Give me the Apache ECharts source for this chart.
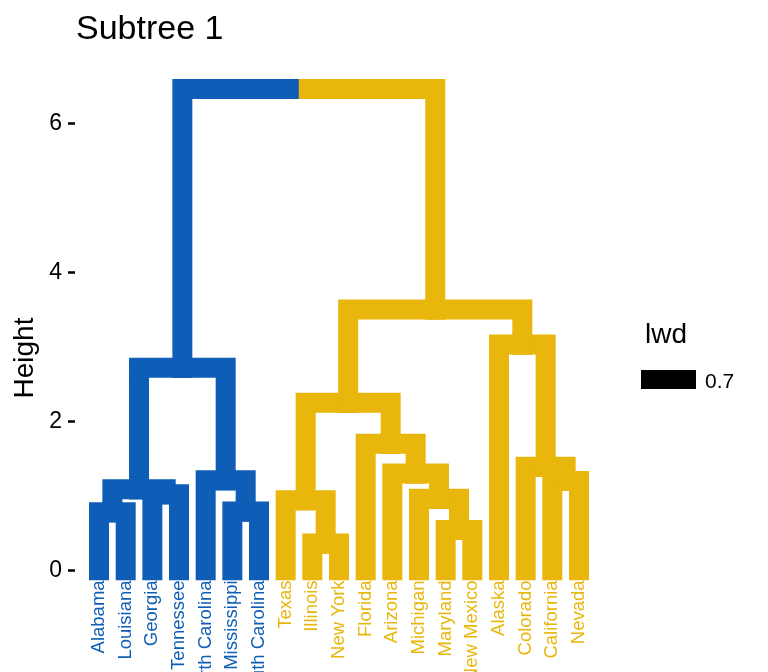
<!DOCTYPE html>
<html>
<head>
<meta charset="utf-8">
<script src="https://cdn.jsdelivr.net/npm/echarts@6/dist/echarts.min.js"></script>
<style>
  html, body { margin: 0; padding: 0; background: #fff; }
  #chart { width: 768px; height: 672px; }
</style>
</head>
<body>
<div id="chart"></div>
<script>
  // leaves, left to right
  const states = ['Alabama', 'Louisiana', 'Georgia', 'Tennessee', 'North Carolina', 'Mississippi',
    'South Carolina', 'Texas', 'Illinois', 'New York', 'Florida', 'Arizona', 'Michigan',
    'Maryland', 'New Mexico', 'Alaska', 'Colorado', 'California', 'Nevada'];
  const leafCluster = [0, 0, 0, 0, 0, 0, 0, 1, 1, 1, 1, 1, 1, 1, 1, 1, 1, 1, 1];
  // hclust style merges: negative = leaf (1-based), positive = earlier merge row
  const mergeLeft = [-9, -14, -1, -6, -8, -13, -3, 3, -18, -5, -12, -17, -11, 5, 8, -16, 14, 15];
  const mergeRight = [-10, -15, -2, -7, 1, 2, -4, 7, -19, 4, 6, 9, 11, 13, 10, 12, 16, 17];
  const mergeHeight = [0.36, 0.54, 0.78, 0.79, 0.94, 0.96, 1.02, 1.09, 1.20, 1.21, 1.30, 1.39,
    1.70, 2.25, 2.72, 3.03, 3.50, 6.46];
  const yTicks = [0, 2, 4, 6];
  const colors = ['#0E5EB7', '#E9B60B'];

  // position / height / cluster of each node
  const nodeX = [], nodeCl = [];
  function info(ref) {
    if (ref < 0) return {x: -ref - 1, h: 0, c: leafCluster[-ref - 1]};
    return {x: nodeX[ref - 1], h: mergeHeight[ref - 1], c: nodeCl[ref - 1]};
  }
  const segs = [];
  mergeHeight.forEach(function (h, i) {
    const a = info(mergeLeft[i]), b = info(mergeRight[i]);
    const mid = (a.x + b.x) / 2;
    nodeX.push(mid);
    nodeCl.push(a.c === b.c ? a.c : -1);
    segs.push([a.x, a.h, mid, h, a.c]);
    segs.push([b.x, b.h, mid, h, b.c]);
  });

  const chart = echarts.init(document.getElementById('chart'));
  const font = 'Liberation Sans, Arial, sans-serif';
  chart.setOption({
    animation: false,
    title: {
      text: 'Subtree 1', left: 76, top: 13, padding: 0,
      textStyle: {fontFamily: font, fontSize: 34, fontWeight: 'normal', color: '#000'}
    },
    grid: {left: 85.7, right: 175.7, top: 78.6, bottom: 34.6, containLabel: false, outerBoundsMode: 'none'},
    xAxis: [
      {
        // labels sit just under height 0 (grid bottom is at -0.9)
        type: 'category', data: states, boundaryGap: true, offset: -67,
        axisLine: {show: false, onZero: false},
        axisTick: {show: false},
        axisLabel: {
          rotate: 90, margin: 10, interval: 0, fontFamily: font, fontSize: 18.5,
          color: function (v, i) { return colors[leafCluster[i]]; }
        }
      },
      {type: 'value', min: -0.5, max: 18.5, show: false, axisLine: {onZero: false}}
    ],
    yAxis: {
      type: 'value', min: -0.9, max: 6.6, offset: 10.7,
      name: 'Height', nameLocation: 'middle', nameGap: 36, nameRotate: 90, nameMoveOverlap: false,
      nameTextStyle: {fontFamily: font, fontSize: 28, color: '#000'},
      axisLine: {show: false, onZero: false},
      axisTick: {show: true, length: 7, customValues: yTicks, lineStyle: {color: '#000', width: 2.5}},
      axisLabel: {customValues: yTicks, margin: 13, fontFamily: font, fontSize: 23, color: '#000'},
      splitLine: {show: false}
    },
    series: [{
      type: 'custom',
      xAxisIndex: 1,
      clip: false,
      encode: {x: [0, 2], y: [1, 3]},
      data: segs,
      renderItem: function (params, api) {
        const p1 = api.coord([api.value(0), api.value(1)]);
        const p2 = api.coord([api.value(0), api.value(3)]);
        const p3 = api.coord([api.value(2), api.value(3)]);
        return {
          type: 'polyline',
          shape: {points: [p1, p2, p3]},
          style: {
            stroke: colors[api.value(4)], fill: null, lineWidth: 20,
            lineCap: 'square', lineJoin: 'miter'
          }
        };
      }
    }],
    graphic: [
      {type: 'text', left: 645, top: 321, style: {text: 'lwd', fontFamily: font, fontSize: 28, fill: '#000'}},
      {type: 'rect', left: 641, top: 370, shape: {width: 55, height: 19}, style: {fill: '#000'}},
      {type: 'text', left: 705, top: 372, style: {text: '0.7', fontFamily: font, fontSize: 21, fill: '#000'}}
    ]
  });
</script>
</body>
</html>
